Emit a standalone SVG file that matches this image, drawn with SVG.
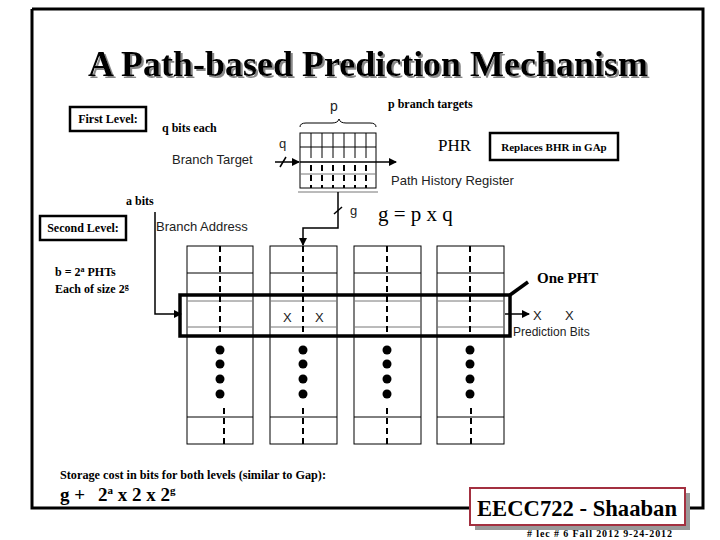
<svg xmlns="http://www.w3.org/2000/svg" width="720" height="540" viewBox="0 0 720 540">
<style>
.sb{font-family:"Liberation Serif","Times New Roman",serif;font-weight:bold;fill:#000}
.sr{font-family:"Liberation Serif","Times New Roman",serif;fill:#000}
.ss{font-family:"Liberation Sans",Arial,sans-serif;fill:#222}
.thin{stroke:#000;stroke-width:1;fill:none}
.grey{stroke:#777;stroke-width:1;fill:none}
.dash{stroke:#000;stroke-width:2;stroke-dasharray:6,4;fill:none}
.thick{stroke:#000;stroke-width:3.5;fill:none}
.lbl{fill:#fff;stroke:#000;stroke-width:2.5}
</style>
<defs>
<marker id="ah" markerWidth="8" markerHeight="8" refX="7" refY="4" orient="auto" markerUnits="userSpaceOnUse">
<path d="M0,0 L8,4 L0,8 z" fill="#000"/>
</marker>
<filter id="shadow" x="-5%" y="-20%" width="110%" height="140%">
<feDropShadow dx="2" dy="2" stdDeviation="0.6" flood-color="#888" flood-opacity="1"/>
</filter>
</defs>
<rect width="720" height="540" fill="#fff"/>
<!-- frame -->
<g id="frame">
<path d="M32,9 L703,9 L703,508 L685,508 M470,508 L32,508 L32,9" fill="none" stroke="#000" stroke-width="3"/>
</g>
<!-- title -->
<g id="title">
<text x="368" y="76" text-anchor="middle" class="sb" font-size="36" textLength="560" lengthAdjust="spacingAndGlyphs" filter="url(#shadow)">A Path-based Prediction Mechanism</text>
</g>
<!-- labels -->
<g id="first-level">
<rect x="70" y="107" width="76" height="24" class="lbl"/>
<text x="108" y="123" text-anchor="middle" class="sb" font-size="12">First Level:</text>
</g>
<g id="second-level">
<rect x="40" y="216" width="86" height="24" class="lbl"/>
<text x="83" y="232" text-anchor="middle" class="sb" font-size="12">Second Level:</text>
</g>
<g id="replaces">
<rect x="490" y="133" width="128" height="27" class="lbl"/>
<text x="554" y="151" text-anchor="middle" class="sb" font-size="11">Replaces BHR in GAp</text>
</g>
<g id="texts">
<text x="162" y="132" class="sb" font-size="12">q bits each</text>
<text x="388" y="108" class="sb" font-size="12">p branch targets</text>
<text x="438" y="151" class="sr" font-size="17">PHR</text>
<text x="172" y="164" class="ss" font-size="13">Branch Target</text>
<text x="391" y="185" class="ss" font-size="13">Path History Register</text>
<text x="330" y="111" class="ss" font-size="14">p</text>
<text x="279" y="148" class="ss" font-size="13">q</text>
<text x="350" y="215" class="ss" font-size="13">g</text>
<text x="378" y="221" class="sr" font-size="21">g = p  x  q</text>
<text x="126" y="205" class="sb" font-size="12">a bits</text>
<text x="156" y="231" class="ss" font-size="13">Branch Address</text>
<text x="55" y="276" class="sb" font-size="12">b = 2<tspan font-size="8" dy="-4">a</tspan><tspan dy="4"> PHTs</tspan></text>
<text x="55" y="293" class="sb" font-size="12">Each of size 2<tspan font-size="8" dy="-4">g</tspan></text>
<text x="537" y="283" class="sb" font-size="15">One PHT</text>
<text x="533" y="320" class="ss" font-size="13">X</text>
<text x="565" y="320" class="ss" font-size="13">X</text>
<text x="513" y="336" class="ss" font-size="12">Prediction Bits</text>
<text x="60" y="479" class="sb" font-size="12" textLength="266" lengthAdjust="spacingAndGlyphs">Storage cost in bits for both levels (similar to Gap):</text>
<text x="60" y="501" class="sb" font-size="19">g +<tspan x="98">2</tspan><tspan font-size="11" dy="-7">a</tspan><tspan dy="7"> x 2 x 2</tspan><tspan font-size="11" dy="-7">g</tspan></text>
</g>
<!-- PHR grid -->
<g id="phr">
<path d="M300,127 q0,-4 6,-4 L332,123 q6,0 7,-4 q1,4 7,4 L370,123 q6,0 6,4" class="thin"/>
<rect x="300" y="133" width="76" height="55" class="thin"/>
<line x1="300" y1="147" x2="376" y2="147" class="thin"/>
<line x1="300" y1="174" x2="376" y2="174" class="grey"/>
<line x1="298" y1="192" x2="378" y2="192" class="grey" stroke-width="1.5"/>
<g stroke="#000" stroke-width="1">
<line x1="311" y1="133" x2="311" y2="158"/><line x1="322" y1="133" x2="322" y2="158"/><line x1="333" y1="133" x2="333" y2="158"/><line x1="344" y1="133" x2="344" y2="158"/><line x1="355" y1="133" x2="355" y2="158"/><line x1="366" y1="133" x2="366" y2="158"/>
</g>
<g stroke="#000" stroke-width="2" stroke-dasharray="6,4">
<line x1="311" y1="165" x2="311" y2="188"/><line x1="322" y1="165" x2="322" y2="188"/><line x1="333" y1="165" x2="333" y2="188"/><line x1="344" y1="165" x2="344" y2="188"/><line x1="355" y1="165" x2="355" y2="188"/><line x1="366" y1="165" x2="366" y2="188"/>
</g>
</g>
<!-- PHT columns -->
<g id="pht1">
<rect x="187" y="246" width="66" height="198" class="thin"/>
<line x1="187" y1="273" x2="253" y2="273" class="thin"/>
<line x1="187" y1="301" x2="253" y2="301" class="grey"/>
<line x1="187" y1="327" x2="253" y2="327" class="grey"/>
<line x1="187" y1="417" x2="253" y2="417" class="thin"/>
<line x1="220" y1="246" x2="220" y2="336" class="dash"/>
<line x1="224" y1="408" x2="224" y2="444" class="dash"/>
<g fill="#000"><circle cx="220" cy="350" r="4.5"/><circle cx="220" cy="364" r="4.5"/><circle cx="220" cy="379" r="4.5"/><circle cx="220" cy="394" r="4.5"/></g>
</g>
<g id="pht2">
<rect x="270" y="246" width="67" height="198" class="thin"/>
<line x1="270" y1="273" x2="337" y2="273" class="thin"/>
<line x1="270" y1="301" x2="337" y2="301" class="grey"/>
<line x1="270" y1="327" x2="337" y2="327" class="grey"/>
<line x1="270" y1="417" x2="337" y2="417" class="thin"/>
<line x1="303" y1="246" x2="303" y2="336" class="dash"/>
<line x1="303" y1="408" x2="303" y2="444" class="dash"/>
<text x="283" y="322" class="ss" font-size="13">X</text>
<text x="315" y="322" class="ss" font-size="13">X</text>
<g fill="#000"><circle cx="303" cy="350" r="4.5"/><circle cx="303" cy="364" r="4.5"/><circle cx="303" cy="379" r="4.5"/><circle cx="303" cy="394" r="4.5"/></g>
</g>
<g id="pht3">
<rect x="354" y="246" width="67" height="198" class="thin"/>
<line x1="354" y1="273" x2="421" y2="273" class="thin"/>
<line x1="354" y1="301" x2="421" y2="301" class="grey"/>
<line x1="354" y1="327" x2="421" y2="327" class="grey"/>
<line x1="354" y1="417" x2="421" y2="417" class="thin"/>
<line x1="387" y1="246" x2="387" y2="336" class="dash"/>
<line x1="387" y1="408" x2="387" y2="444" class="dash"/>
<g fill="#000"><circle cx="387" cy="350" r="4.5"/><circle cx="387" cy="364" r="4.5"/><circle cx="387" cy="379" r="4.5"/><circle cx="387" cy="394" r="4.5"/></g>
</g>
<g id="pht4">
<rect x="437" y="246" width="67" height="198" class="thin"/>
<line x1="437" y1="273" x2="504" y2="273" class="thin"/>
<line x1="437" y1="301" x2="504" y2="301" class="grey"/>
<line x1="437" y1="327" x2="504" y2="327" class="grey"/>
<line x1="437" y1="417" x2="504" y2="417" class="thin"/>
<line x1="470" y1="246" x2="470" y2="336" class="dash"/>
<line x1="471" y1="408" x2="471" y2="444" class="dash"/>
<g fill="#000"><circle cx="470" cy="350" r="4.5"/><circle cx="470" cy="364" r="4.5"/><circle cx="470" cy="379" r="4.5"/><circle cx="470" cy="394" r="4.5"/></g>
</g>
<g id="one-pht-box">
<rect x="180" y="295" width="330" height="41" class="thick"/>
</g>
<!-- connectors -->
<g id="connectors">
<line x1="275" y1="162" x2="299" y2="162" stroke="#000" stroke-width="1.5" marker-end="url(#ah)"/>
<line x1="300" y1="162" x2="396" y2="162" stroke="#000" stroke-width="1.5" marker-end="url(#ah)"/>
<line x1="280" y1="167" x2="286" y2="157" stroke="#000" stroke-width="1.5"/>
<path d="M338,192 L338,228 L303,228 L303,245" fill="none" stroke="#000" stroke-width="1.5" marker-end="url(#ah)"/>
<line x1="334" y1="214" x2="342" y2="207" stroke="#000" stroke-width="1.5"/>
<path d="M155,212 L155,314 L181,314" fill="none" stroke="#000" stroke-width="1.5" marker-end="url(#ah)"/>
<line x1="505" y1="314" x2="529" y2="314" stroke="#000" stroke-width="1.5" marker-end="url(#ah)"/>
<line x1="510" y1="295" x2="528" y2="282" stroke="#000" stroke-width="3.5"/>
</g>
<!-- footer -->
<g id="footer">
<rect x="475" y="493" width="215" height="37" fill="#999"/>
<rect x="470" y="488" width="215" height="37" fill="#fff" stroke="#a33040" stroke-width="2"/>
<text x="577" y="516" text-anchor="middle" class="sb" font-size="23" textLength="200" lengthAdjust="spacingAndGlyphs">EECC722 - Shaaban</text>
<text x="527" y="537" class="sb" font-size="10" textLength="145" lengthAdjust="spacing"># lec # 6   Fall 2012   9-24-2012</text>
</g>
</svg>
